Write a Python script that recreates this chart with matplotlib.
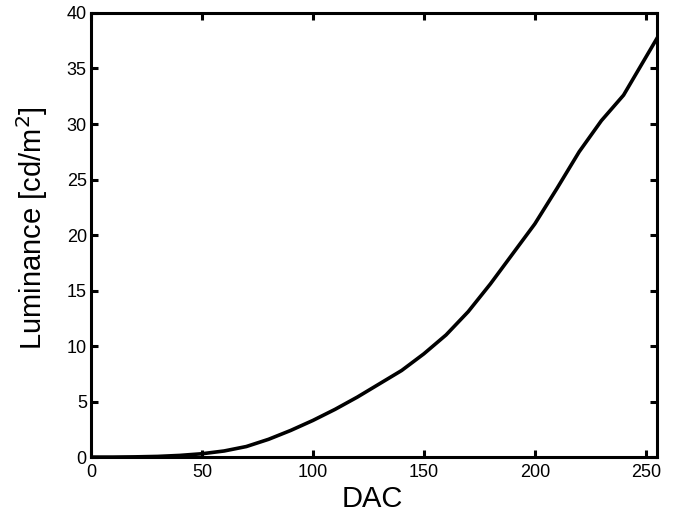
import numpy as np
import matplotlib.pyplot as plt

# ---------------------------
# DATA
# ---------------------------
dac = [0, 10, 20, 30, 40, 50, 60, 70, 80, 90, 100, 110, 120, 130, 140,
       150, 160, 170, 180, 190, 200, 210, 220, 230, 240, 250, 255]
lum = [0, 0, 0.02, 0.06, 0.15, 0.3, 0.55, 0.95, 1.6, 2.4, 3.3, 4.3, 5.4,
       6.6, 7.8, 9.3, 11.0, 13.1, 15.6, 18.3, 21.0, 24.2, 27.5, 30.3,
       32.6, 36.0, 37.7]

xticks = [0, 50, 100, 150, 200, 250]
yticks = [0, 5, 10, 15, 20, 25, 30, 35, 40]

# ---------------------------
# PLOT
# ---------------------------
plt.rcParams['font.family'] = ['Liberation Sans', 'DejaVu Sans']

fig = plt.figure(figsize=(6.73, 5.13), dpi=100)
ax = fig.add_axes([0.1352, 0.109, 0.8408, 0.8657])

ax.plot(dac, lum, color='black', linewidth=2.6)

ax.set_xlim(0, 255)
ax.set_ylim(0, 40)
ax.set_xticks(xticks)
ax.set_yticks(yticks)

for s in ax.spines.values():
    s.set_linewidth(2.2)
ax.tick_params(direction='in', length=5, width=2.2, labelsize=13,
               top=True, right=True)
ax.tick_params(axis='x', pad=5)
ax.tick_params(axis='y', pad=3)

ax.set_xlabel("DAC", fontsize=21)
ax.set_ylabel("Luminance [cd/m$^2$]", fontsize=21)
ax.xaxis.set_label_coords(0.498, -0.062)
ax.yaxis.set_label_coords(-0.073, 0.516)

fig.savefig("out.png", dpi=100)
